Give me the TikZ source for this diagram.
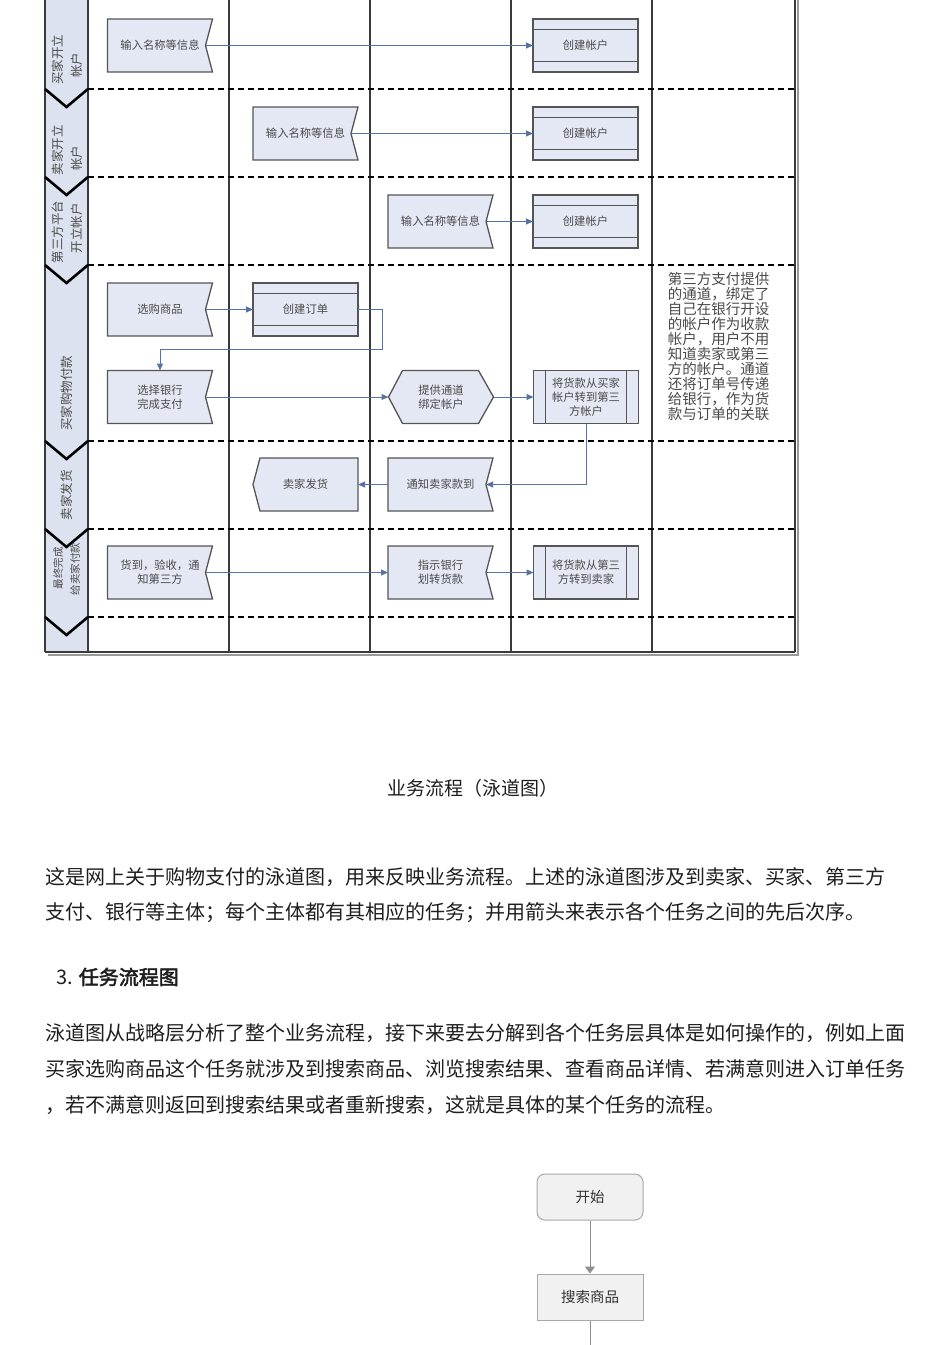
\documentclass[tikz,border=0pt]{standalone}
\usepackage{fontspec}
\setmainfont{Noto Sans CJK SC}
\newfontfamily\cjkbold[FakeBold=2.5]{Noto Sans CJK SC}
\usetikzlibrary{arrows.meta,calc}
\definecolor{hdrfill}{HTML}{DCE2EF}
\definecolor{boxfill}{HTML}{E3E8F4}
\definecolor{boxline}{HTML}{555555}
\definecolor{arrowblue}{HTML}{5573A6}
\definecolor{gridline}{HTML}{3A3A3A}
\definecolor{diagtext}{HTML}{4A4A4A}
\definecolor{bodytext}{HTML}{1E1E1E}
\definecolor{fcline}{HTML}{A8A8A8}
\definecolor{fcfill}{HTML}{F1F1F1}
\pgfdeclarelayer{bg}
\pgfsetlayers{bg,main}
\tikzset{
 boxnode/.style={minimum width=105pt,minimum height=53pt,inner sep=0pt,outer sep=0pt,align=center,font=\fontsize{11.3}{14}\selectfont,text=diagtext},
 boxshape/.style={draw=boxline,fill=boxfill,line width=1.3pt,line join=miter},
 boxinner/.style={draw=boxline,line width=1.3pt},
 conn/.style={draw=arrowblue,line width=1pt,-{Triangle[length=7pt,width=6pt]}},
 lanelabel/.style={rotate=90,font=\fontsize{12.5}{14}\selectfont,text=diagtext,inner sep=0pt},
 gridv/.style={draw=gridline,line width=1.6pt},
 lanesep/.style={draw=black,line width=2.6pt,dash pattern=on 6pt off 4pt},
 chev/.style={draw=black,line width=2.6pt,line join=miter},
 bodyline/.style={anchor=west,font=\fontsize{20}{24}\selectfont,text=bodytext,inner sep=0pt},
 notetext/.style={align=left,font=\fontsize{14.5}{15}\selectfont,text=diagtext,inner sep=0pt},
 fcbox/.style={draw=fcline,fill=fcfill,line width=1pt,minimum width=106pt,minimum height=46pt,font=\fontsize{14.5}{17}\selectfont,text=black!80},
 fcarrow/.style={draw=fcline!85!black,line width=1pt,-{Triangle[length=7pt,width=10pt]}},
 fcplain/.style={draw=fcline!85!black,line width=1pt},
}
\newcommand\flagdraw[1]{%
 \begin{pgfonlayer}{bg}\path[boxshape] (#1.north west) -- (#1.north east) -- ($(#1.east)+(-7,0)$) -- (#1.south east) -- (#1.south west) -- cycle;\end{pgfonlayer}%
 \coordinate (#1-n) at ($(#1.east)+(-7,0)$);}
\newcommand\stripedraw[1]{%
 \begin{pgfonlayer}{bg}\path[boxshape] (#1.north west) rectangle (#1.south east);
 \draw[boxinner] ($(#1.north west)+(0,10.5)$) -- ($(#1.north east)+(0,10.5)$);
 \draw[boxinner] ($(#1.south west)+(0,-10.5)$) -- ($(#1.south east)+(0,-10.5)$);\end{pgfonlayer}}
\newcommand\procdraw[1]{%
 \begin{pgfonlayer}{bg}\path[boxshape] (#1.north west) rectangle (#1.south east);
 \draw[boxinner] ($(#1.north west)+(12,0)$) -- ($(#1.south west)+(12,0)$);
 \draw[boxinner] ($(#1.north east)+(-12,0)$) -- ($(#1.south east)+(-12,0)$);\end{pgfonlayer}}
\newcommand\hexdraw[1]{%
 \begin{pgfonlayer}{bg}\path[boxshape] (#1.west) -- ($(#1.north west)+(14,0)$) -- ($(#1.north east)+(-15,0)$) -- (#1.east) -- ($(#1.south east)+(-15,0)$) -- ($(#1.south west)+(14,0)$) -- cycle;\end{pgfonlayer}}
\newcommand\leftptdraw[1]{%
 \begin{pgfonlayer}{bg}\path[boxshape] ($(#1.north west)+(7,0)$) -- (#1.north east) -- (#1.south east) -- ($(#1.south west)+(7,0)$) -- (#1.west) -- cycle;\end{pgfonlayer}}
\begin{document}
\begin{tikzpicture}[x=1pt,y=-1pt]
\useasboundingbox (0,0) rectangle (950,1345);
\clip (0,0) rectangle (950,1345);
% ---------- swimlane frame ----------
\fill[hdrfill] (45,-5) rectangle (88,652);
\draw[draw=gray!80,line width=1.6pt] (798,0) -- (798,655) -- (48,655);
\foreach \xx in {45,88,229,370,511,652,795} {\draw[gridv] (\xx,-5) -- (\xx,652);}
\draw[gridv] (45,652) -- (795,652);
\foreach \yy in {89,177,265,441,529,617} {
 \draw[lanesep] (88,\yy) -- (795,\yy);
 \draw[chev] (45,\yy) -- (66.5,\yy+18) -- (88,\yy);
}
% ---------- lane labels ----------
\node[lanelabel] (l1a) at (58,59.5) {买家开立};
\node[lanelabel] (l1b) at (77,65) {帐户};
\node[lanelabel] (l2a) at (58,150) {卖家开立};
\node[lanelabel] (l2b) at (77,158) {帐户};
\node[lanelabel] (l3a) at (58,232) {第三方平台};
\node[lanelabel] (l3b) at (77,228) {开立帐户};
\node[lanelabel] (l4) at (67,393) {买家购物付款};
\node[lanelabel] (l5) at (67,495) {卖家发货};
\node[lanelabel,font=\fontsize{10.5}{13}\selectfont] (l6a) at (58,568) {最终完成};
\node[lanelabel,font=\fontsize{10.5}{13}\selectfont] (l6b) at (75,569) {给卖家付款};
% ---------- boxes ----------
\node[boxnode] (in1) at (160,45.5) {输入名称等信息}; \flagdraw{in1}
\node[boxnode] (in2) at (305.5,133.5) {输入名称等信息}; \flagdraw{in2}
\node[boxnode] (in3) at (440.5,221.5) {输入名称等信息}; \flagdraw{in3}
\node[boxnode] (c1) at (585.5,45.5) {创建帐户}; \stripedraw{c1}
\node[boxnode] (c2) at (585.5,133.5) {创建帐户}; \stripedraw{c2}
\node[boxnode] (c3) at (585.5,221.5) {创建帐户}; \stripedraw{c3}
\node[boxnode] (xg) at (160,309.5) {选购商品}; \flagdraw{xg}
\node[boxnode] (dd) at (305.5,309.5) {创建订单}; \stripedraw{dd}
\node[boxnode] (xz) at (160,397) {选择银行\\完成支付}; \flagdraw{xz}
\node[boxnode] (tg) at (441,397) {提供通道\\绑定帐户}; \hexdraw{tg}
\node[boxnode] (jh1) at (586,397) {将货款从买家\\帐户转到第三\\方帐户}; \procdraw{jh1}
\node[boxnode] (fh) at (305.5,484.5) {卖家发货}; \leftptdraw{fh}
\node[boxnode] (tz) at (440.5,484.5) {通知卖家款到}; \flagdraw{tz}
\node[boxnode] (hd) at (160,572.5) {货到，验收，通\\知第三方}; \flagdraw{hd}
\node[boxnode] (zs) at (440.5,572.5) {指示银行\\划转货款}; \flagdraw{zs}
\node[boxnode] (jh2) at (586,572.5) {将货款从第三\\方转到卖家}; \procdraw{jh2}
\node[notetext] (note) at (718.5,346.5) {第三方支付提供\\的通道，绑定了\\自己在银行开设\\的帐户作为收款\\帐户，用户不用\\知道卖家或第三\\方的帐户。通道\\还将订单号传递\\给银行，作为货\\款与订单的关联};
% ---------- connectors ----------
\draw[conn] (in1-n) -- (c1.west);
\draw[conn] (in2-n) -- (c2.west);
\draw[conn] (in3-n) -- (c3.west);
\draw[conn] (xg-n) -- (dd.west);
\draw[conn] (dd.east) -- ++(24,0) |- ($(xz.north)+(0,-21.5)$) -- (xz.north);
\draw[conn] (xz-n) -- (tg.west);
\draw[conn] (tg.east) -- (jh1.west);
\draw[conn] (jh1.south) |- (tz-n);
\draw[conn] (tz.west) -- (fh.east);
\draw[conn] (hd-n) -- (zs.west);
\draw[conn] (zs-n) -- (jh2.west);
% ---------- text ----------
\node[font=\fontsize{19}{22}\selectfont,text=bodytext,inner sep=0pt] (cap) at (473,788) {业务流程（泳道图）};
\node[bodyline] (p1a) at (45,877) {这是网上关于购物支付的泳道图，用来反映业务流程。上述的泳道图涉及到卖家、买家、第三方};
\node[bodyline] (p1b) at (45,913) {支付、银行等主体；每个主体都有其相应的任务；并用箭头来表示各个任务之间的先后次序。};
\node[bodyline] (h3) at (56,977) {3. {\cjkbold 任务流程图}};
\node[bodyline] (p2a) at (45,1033) {泳道图从战略层分析了整个业务流程，接下来要去分解到各个任务层具体是如何操作的，例如上面};
\node[bodyline] (p2b) at (45,1069) {买家选购商品这个任务就涉及到搜索商品、浏览搜索结果、查看商品详情、若满意则进入订单任务};
\node[bodyline] (p2c) at (45,1105) {，若不满意则返回到搜索结果或者重新搜索，这就是具体的某个任务的流程。};
% ---------- task flow ----------
\node[fcbox,rounded corners=8pt] (start) at (590,1197) {开始};
\node[fcbox] (search) at (590,1297) {搜索商品};
\coordinate (fcend) at (590,1350);
\draw[fcarrow] (start) -- (search);
\draw[fcplain] (search) -- (fcend);
\end{tikzpicture}
\end{document}
